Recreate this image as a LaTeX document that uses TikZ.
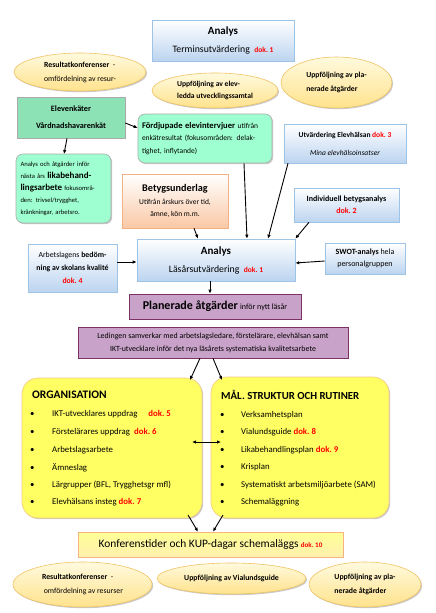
\documentclass[tikz,border=0pt]{standalone}
\usepackage{fontspec}
\setmainfont{Carlito}
\usetikzlibrary{arrows.meta,shadows,shapes.geometric}
\definecolor{blueB}{RGB}{157,195,230}
\definecolor{blueF}{RGB}{188,212,240}
\definecolor{ellB}{RGB}{240,195,100}
\definecolor{ellT}{RGB}{255,250,222}
\definecolor{ellF}{RGB}{255,226,140}
\definecolor{greenF}{RGB}{140,226,180}
\definecolor{mintF}{RGB}{158,255,208}
\definecolor{greyB}{RGB}{170,170,170}
\definecolor{peachB}{RGB}{244,177,131}
\definecolor{peachF}{RGB}{250,200,165}
\definecolor{purpF}{RGB}{200,162,200}
\definecolor{purpB}{RGB}{125,50,100}
\definecolor{yelF}{RGB}{255,255,100}
\definecolor{yelB}{RGB}{245,200,130}
\definecolor{konfF}{RGB}{255,255,150}
\definecolor{konfB}{RGB}{245,180,130}
\definecolor{dokred}{RGB}{255,0,0}
\newcommand\dokref[1]{{\color{dokred}\bfseries dok.~#1}}
\newcommand\fs[2]{\fontsize{#1}{#2}\selectfont}
\begin{document}
\begin{tikzpicture}[x=1pt,y=-1pt,
  shad/.style={drop shadow={shadow xshift=1.2pt,shadow yshift=-1.2pt,opacity=0.35,fill=black!60}},
  box/.style={draw,inner sep=0pt,align=center,shad,line width=0.6pt},
  bluebox/.style={box,draw=blueB,top color=white,bottom color=blueF},
  ell/.style={ellipse,draw=ellB,top color=ellT,bottom color=ellF,inner sep=0pt,shad,line width=0.6pt,align=left},
  mintbox/.style={box,draw=greyB,fill=mintF,rounded corners=7pt,align=left},
  purpbox/.style={box,draw=purpB,fill=purpF},
  yelbox/.style={box,draw=yelB,fill=yelF,rounded corners=16pt},
  item/.style={anchor=west,inner sep=0pt,font=\fs{8.8}{10}},
  arr/.style={-{Latex[length=4pt,width=3.5pt]},line width=0.9pt},
  darr/.style={{Latex[length=4pt,width=3.5pt]}-{Latex[length=4pt,width=3.5pt]},line width=0.9pt}
]
\useasboundingbox (0,0) rectangle (436,613);
\fill[white] (0,0) rectangle (436,613);

% top row
\node[bluebox,minimum width=142pt,minimum height=41pt,font=\fs{9.8}{18}] (term) at (223,40.5)
  {{\fs{11}{18}\bfseries Analys}\\Terminsutvärdering \ {\fs{7.5}{18}\dokref{1}}};
\node[ell,minimum width=132pt,minimum height=38pt,font=\fs{7.8}{14}] (e1) at (80,72)
  {{\bfseries Resultatkonferenser}\ \ -\\omfördelning av resur-};
\node[ell,minimum width=126pt,minimum height=35pt,font=\fs{7.6}{11.5}\bfseries] (e2) at (215,90.5)
  {Uppföljning av elev-\\ledda utvecklingssamtal};
\node[ell,minimum width=111pt,minimum height=51pt,font=\fs{7.7}{14}\bfseries] (e3) at (336.5,82.5)
  {Uppföljning av pla-\\nerade åtgärder};

% green boxes
\node[box,draw=greyB,fill=greenF,minimum width=108pt,minimum height=41pt,font=\fs{8.2}{17}\bfseries] (enk) at (71,117.5)
  {Elevenkäter\\Vårdnadshavarenkät};
\node[mintbox,minimum width=134pt,minimum height=49pt,text width=126pt,font=\fs{7.5}{12.5}] (fdj) at (205,138.5)
  {{\fs{8.6}{12.5}\bfseries Fördjupade elevintervjuer} utifrån\\enkätresultat (fokusområden: delak-\\tighet, inflytande)};
\node[mintbox,minimum width=95pt,minimum height=69pt,text width=86pt,font=\fs{6.6}{12}] (lika) at (63.5,188.5)
  {Analys och åtgärder inför\\nästa års {\fs{9}{12}\bfseries likabehand-}\\{\fs{9}{12}\bfseries lingsarbete} fokusområ-\\den: trivsel/trygghet,\\kränkningar, arbetsro.};

% betyg etc.
\node[box,draw=peachB,top color=white,bottom color=peachF,minimum width=106pt,minimum height=54pt,font=\fs{7.5}{12}] (bet) at (175,201)
  {{\fs{10.2}{17}\bfseries Betygsunderlag}\\[1pt]Utifrån årskurs över tid,\\ämne, kön m.m.};
\node[bluebox,minimum width=122pt,minimum height=39pt,font=\fs{7.5}{18}] (utv) at (345,143.5)
  {{\bfseries Utvärdering Elevhälsan} \dokref{3}\\\itshape Mina elevhälsoinsatser};
\node[bluebox,minimum width=105pt,minimum height=34pt,font=\fs{8}{12}] (ind) at (346.5,205)
  {\bfseries Individuell betygsanalys\\\dokref{2}};

% analys lasar
\node[bluebox,minimum width=158pt,minimum height=42pt,font=\fs{9.8}{18}] (ana) at (216,260)
  {{\fs{11}{18}\bfseries Analys}\\Läsårsutvärdering \ {\fs{7.5}{18}\dokref{1}}};
\node[bluebox,minimum width=89pt,minimum height=48pt,font=\fs{7.8}{13}] (arb) at (72.5,268)
  {Arbetslagens {\bfseries bedöm-}\\{\bfseries ning av skolans kvalité}\\\dokref{4}};
\node[bluebox,minimum width=80pt,minimum height=31pt,font=\fs{8}{12}] (swot) at (365,258.5)
  {{\bfseries SWOT-analys} hela\\personalgruppen};

% purple
\node[purpbox,minimum width=172pt,minimum height=25pt] (plan) at (215,306.5)
  {{\fs{12}{14}\bfseries Planerade åtgärder} {\fs{8}{9}inför nytt läsår}};
\node[purpbox,minimum width=270pt,minimum height=31pt,font=\fs{7.9}{13}] (led) at (213,342.5)
  {Ledingen samverkar med arbetslagsledare, förstelärare, elevhälsan samt\\IKT-utvecklare inför det nya läsårets systematiska kvalitetsarbete};

% yellow boxes
\node[yelbox,minimum width=180pt,minimum height=140pt] (org) at (112,448) {};
\node[yelbox,minimum width=178pt,minimum height=141pt] (mal) at (300,447.5) {};
\node[anchor=west,inner sep=0pt,font=\fs{11.5}{12}\bfseries] (orgh) at (32,395) {ORGANISATION};
\node[item] (o1) at (30,414) {\makebox[22pt][l]{\textbullet}IKT-utvecklares uppdrag \quad\dokref{5}};
\node[item] (o2) at (30,432) {\makebox[22pt][l]{\textbullet}Förstelärares uppdrag \ \dokref{6}};
\node[item] (o3) at (30,450) {\makebox[22pt][l]{\textbullet}Arbetslagsarbete};
\node[item] (o4) at (30,468) {\makebox[22pt][l]{\textbullet}Ämneslag};
\node[item] (o5) at (30,485) {\makebox[22pt][l]{\textbullet}Lärgrupper (BFL, Trygghetsgr mfl)};
\node[item] (o6) at (30,502) {\makebox[22pt][l]{\textbullet}Elevhälsans insteg \dokref{7}};
\node[anchor=west,inner sep=0pt,font=\fs{10.8}{12}\bfseries] (malh) at (221,395) {MÅL. STRUKTUR OCH RUTINER};
\node[item] (m1) at (220,415) {\makebox[21pt][l]{\textbullet}Verksamhetsplan};
\node[item] (m2) at (220,432) {\makebox[21pt][l]{\textbullet}Vialundsguide \dokref{8}};
\node[item] (m3) at (220,450) {\makebox[21pt][l]{\textbullet}Likabehandlingsplan \dokref{9}};
\node[item] (m4) at (220,467) {\makebox[21pt][l]{\textbullet}Krisplan};
\node[item] (m5) at (220,485) {\makebox[21pt][l]{\textbullet}Systematiskt arbetsmiljöarbete (SAM)};
\node[item] (m6) at (220,502) {\makebox[21pt][l]{\textbullet}Schemaläggning};

% konferens
\node[box,draw=konfB,top color=konfF,bottom color=konfF!80!orange!60,minimum width=265pt,minimum height=25pt] (konf) at (210.5,544.5)
  {{\fs{11.4}{13}Konferenstider och KUP-dagar schemaläggs} {\fs{7}{8}\dokref{10}}};

% bottom ellipses
\node[ell,minimum width=139pt,minimum height=45pt,font=\fs{7.8}{14}] (b1) at (82.5,584.5)
  {{\bfseries Resultatkonferenser}\ \ -\\\ omfördelning av resurser};
\node[ell,minimum width=149pt,minimum height=31pt,font=\fs{7.8}{12}\bfseries] (b2) at (231.5,578.5)
  {Uppföljning av Vialundsguide};
\node[ell,minimum width=112pt,minimum height=45pt,font=\fs{7.8}{14}\bfseries] (b3) at (365,584.5)
  {Uppföljning av pla-\\nerade åtgärder};

% connectors
\coordinate (c1) at (122,123); \coordinate (c2) at (137,128);
\draw[arr] (enk.east |- c1) -- (fdj.west |- c2);
\draw[arr] (enk.south -| 67,0) -- (64,154);
\draw[arr] (fdj.south -| 244,0) -- (ana.north -| 247,0);
\draw[arr] (utv.south -| 288,0) -- (ana.north -| 268,0);
\draw[arr] (ind.south -| 309,0) -- (ana.north east);
\draw[arr] (bet.south -| 194,0) -- (ana.north -| 198,0);
\draw[arr] (arb.east |- 0,262) -- (ana.west |- 0,262);
\draw[arr] (swot.west |- 0,261) -- (ana.east |- 0,263);
\draw[arr] (ana.south -| 210,0) -- (plan.north -| 210,0);
\draw[arr] (led.south -| 200,0) -- (190,380);
\draw[arr] (led.south -| 213,0) -- (222,380);
\draw[darr] (192,442) -- (221,442);
\draw[arr] (188,515) -- (konf.north -| 198,0);
\draw[arr] (223,515) -- (konf.north -| 213,0);
\end{tikzpicture}
\end{document}
